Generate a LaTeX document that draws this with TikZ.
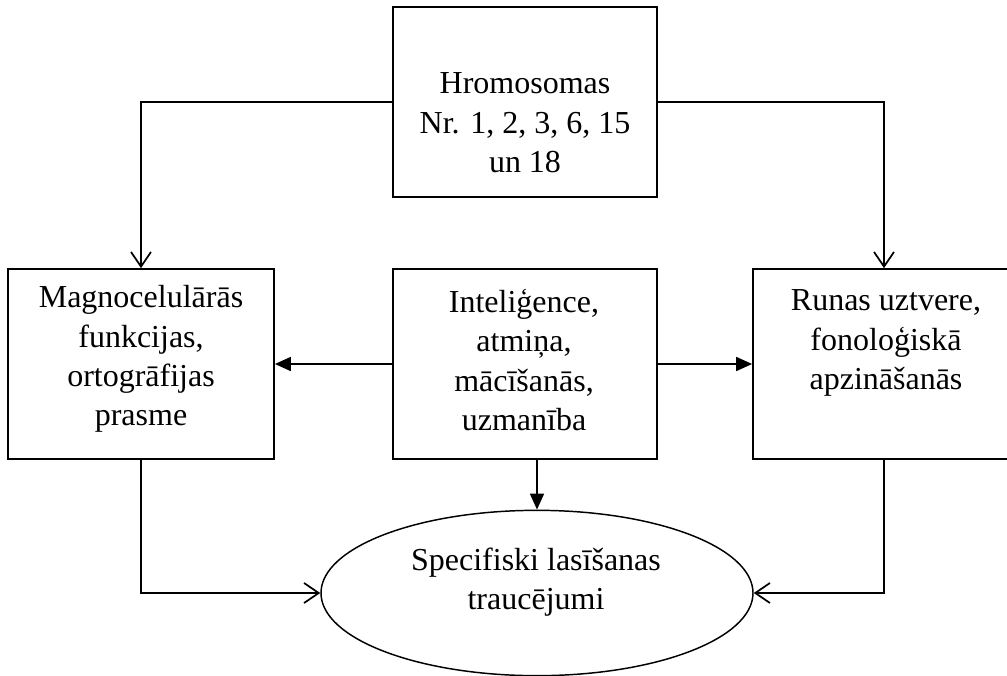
\documentclass[tikz,border=0pt]{standalone}
\usepackage{fontspec}
\setmainfont{Liberation Serif}
\usetikzlibrary{arrows.meta,shapes.geometric}
\begin{document}
\begin{tikzpicture}[x=0.75pt,y=-0.75pt,
  line width=1.3pt,
  box/.style={draw, rectangle, inner sep=0pt},
  oval/.style={draw, ellipse, inner sep=0pt, line width=1.1pt},
  txt/.style={align=center, inner sep=0pt, font=\fontsize{24pt}{29.5pt}\selectfont},
  openarr/.style={-{Straight Barb[length=11pt,width=15pt,line width=1.3pt]}},
  fillarr/.style={-{Triangle[length=12pt,width=10.5pt]}}]
\useasboundingbox (0,0) rectangle (1007,675);

% boxes
\node[box, minimum width=198pt, minimum height=142.5pt] (top)   at (525,102) {};
\node[box, minimum width=199.5pt, minimum height=142.5pt] (left) at (141,364) {};
\node[box, minimum width=198pt, minimum height=142.5pt] (mid)   at (525,364) {};
\node[box, minimum width=196.5pt, minimum height=142.5pt] (right) at (884,364) {};
\node[oval, minimum width=324pt, minimum height=124pt] (ell) at (537,593) {};

% texts
\node[txt] (ttop)   at (525,123) {Hromosomas\\Nr. 1, 2, 3, 6, 15\\un 18};
\node[txt] (tleft)  at (141,359) {Magnocelulārās\\funkcijas,\\ortogrāfijas\\prasme};
\node[txt] (tmid)   at (524,360) {Inteliģence,\\atmiņa,\\mācīšanās,\\uzmanība};
\node[txt] (tright) at (886,343) {Runas uztvere,\\fonoloģiskā\\apzināšanās};
\node[txt] (tell)   at (536,582) {Specifiski lasīšanas\\traucējumi};

% connectors
\draw[openarr] (top.west) -| (left.north);
\draw[openarr] (top.east) -| (right.north);
\draw[fillarr] (mid.west) -- (left.east);
\draw[fillarr] (mid.east) -- (right.west);
\draw[fillarr] (ell.north |- mid.south) -- (ell.north);
\draw[openarr] (left.south) |- (ell.west);
\draw[openarr] (right.south) |- (ell.east);
\end{tikzpicture}
\end{document}
